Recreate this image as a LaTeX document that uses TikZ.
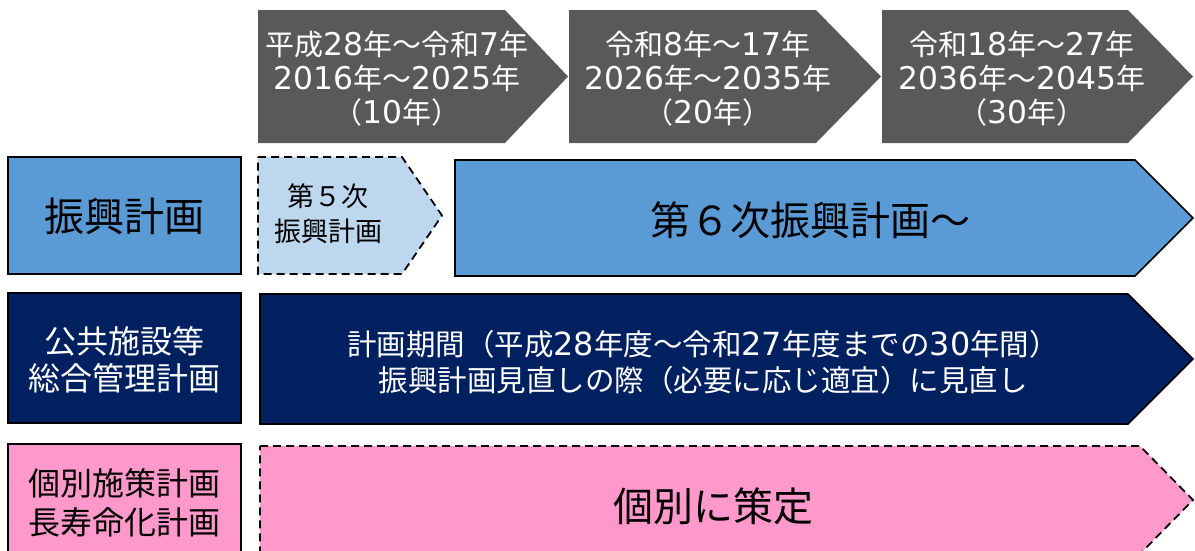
\documentclass[tikz,border=0pt]{standalone}
\usepackage{fontspec}
\setmainfont{Noto Sans CJK JP}
\newfontfamily\numfont{DejaVu Sans}[Scale=1.08]
\newcommand{\numd}[1]{{\numfont #1}}
\definecolor{hdrgray}{HTML}{595959}
\definecolor{midblue}{HTML}{5B9BD5}
\definecolor{lightblue}{HTML}{BDD7EE}
\definecolor{navy}{HTML}{002060}
\definecolor{pink}{HTML}{FF99CC}
\tikzset{
  hdr/.style={fill=hdrgray, draw=none},
  bline/.style={draw=black, line width=1.6pt, line join=miter},
  dline/.style={draw=black, line width=1.8pt, dash pattern=on 8pt off 5pt},
  htext/.style={text=white, align=center, font=\fontsize{29}{34}\selectfont},
}
\newcommand{\pentagon}[6]{% style, x1, y1, xs, xt, y2
  \path[#1] (#2,#3) -- (#4,#3) -- (#5,{(#3+#6)/2}) -- (#4,#6) -- (#2,#6) -- cycle;}
\begin{document}
\begin{tikzpicture}[x=1pt,y=-1pt]
\useasboundingbox[fill=white] (0,0) rectangle (1195,550);
% header arrows
\pentagon{hdr}{258}{10}{505}{568}{143}
\pentagon{hdr}{569}{10}{816}{881}{143}
\pentagon{hdr}{882}{10}{1128}{1193}{143}
\node[htext] (h1) at (397,79) {平成\numd{28}年～令和\numd{7}年\\\numd{2016}年～\numd{2025}年\\（\numd{10}年）};
\node[htext] (h2) at (708,79) {令和\numd{8}年～\numd{17}年\\\numd{2026}年～\numd{2035}年\\（\numd{20}年）};
\node[htext] (h3) at (1022,79) {令和\numd{18}年～\numd{27}年\\\numd{2036}年～\numd{2045}年\\（\numd{30}年）};
% row 1
\path[bline, fill=midblue] (8,157) rectangle (241,274);
\node[font=\fontsize{40}{44}\selectfont] (l1) at (124.5,216) {振興計画};
\pentagon{dline, fill=lightblue}{258}{157}{402}{442}{274}
\node[align=center, font=\fontsize{27}{35}\selectfont] (p5) at (328,214) {第５次\\振興計画};
\pentagon{bline, fill=midblue}{455}{160}{1135}{1193}{276}
\node[font=\fontsize{40}{44}\selectfont] (p6) at (810,220) {第６次振興計画～};
% row 2
\path[bline, fill=navy] (8,293) rectangle (241,423);
\node[align=center, text=white, font=\fontsize{32}{37}\selectfont] (l2) at (124.5,360) {公共施設等\\総合管理計画};
\pentagon{bline, fill=navy}{260}{294}{1128}{1193}{424}
\node[align=center, text=white, font=\fontsize{29.5}{36}\selectfont] (p2) at (703,362) {計画期間（平成\numd{28}年度～令和\numd{27}年度までの\numd{30}年間）\\振興計画見直しの際（必要に応じ適宜）に見直し};
% row 3
\path[bline, fill=pink] (8,444) rectangle (241,560);
\node[align=center, font=\fontsize{32}{39}\selectfont] (l3) at (124.5,503) {個別施策計画\\長寿命化計画};
\pentagon{dline, fill=pink}{260}{446}{1140}{1193}{554}
\node[font=\fontsize{40}{44}\selectfont] (p3) at (713,506) {個別に策定};
\end{tikzpicture}
\end{document}
